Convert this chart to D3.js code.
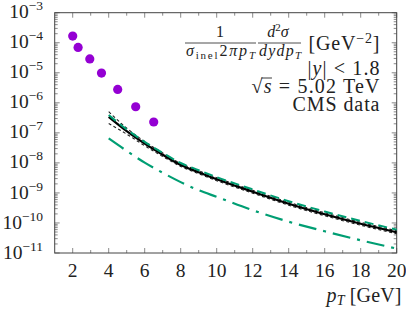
<!doctype html>
<html lang="en">
<head>
<meta charset="utf-8">
<title>D meson pT spectrum</title>
<style>
html, body, svg { margin: 0; padding: 0; border: 0; }
body { background: #fff; }
text { font-family: "Liberation Serif", "DejaVu Serif", serif; fill: #222; }
</style>
</head>
<body>
<svg width="406" height="310"></svg>
<script src="https://d3js.org/d3.v7.min.js"></script>
<script>
// tick labels
var xTicks = [2, 4, 6, 8, 10, 12, 14, 16, 18, 20];
var yExps = [-3, -4, -5, -6, -7, -8, -9, -10, -11];

// CMS data points
var dataPt = [2.0, 2.3, 2.95, 3.6, 4.5, 5.5, 6.5];
var dataVal = [1.67e-4, 7.0e-5, 2.9e-5, 9.8e-6, 2.8e-6, 7.4e-7, 2.3e-7];

// theory curves
var curvePt = [4, 5, 6, 7, 8, 9, 10, 12, 14, 16, 18, 20];
var central = [3.41e-7, 1.14e-7, 4.37e-8, 1.87e-8, 8.57e-9, 4.9e-9, 2.86e-9, 1.10e-9, 4.37e-10, 1.95e-10, 9.4e-11, 4.9e-11];
var upper   = [5.05e-7, 1.44e-7, 5.13e-8, 2.15e-8, 9.6e-9, 5.5e-9, 3.21e-9, 1.23e-9, 4.9e-10, 2.19e-10, 1.05e-10, 5.5e-11];
var lower   = [2.06e-7, 9.06e-8, 3.72e-8, 1.63e-8, 7.64e-9, 4.37e-9, 2.55e-9, 9.8e-10, 3.9e-10, 1.74e-10, 8.4e-11, 4.4e-11];
var greenDash = [3.9e-7, 1.30e-7, 5.0e-8, 2.15e-8, 9.9e-9, 5.7e-9, 3.35e-9, 1.31e-9, 5.3e-10, 2.4e-10, 1.16e-10, 6.0e-11];
var greenDashDot = [6.5e-8, 2.51e-8, 1.02e-8, 4.68e-9, 2.29e-9, 1.23e-9, 7.4e-10, 2.65e-10, 1.10e-10, 5.28e-11, 2.65e-11, 1.40e-11];

var pLeft = 54.7, pRight = 396.7, pTop = 12.7, pBottom = 253;

var svg = d3.select("svg");

var x = d3.scaleLinear().domain([1, 20]).range([pLeft, pRight]);
var y = d3.scaleLog().domain([1e-11, 1e-3]).range([pBottom, pTop]);

// minor / major ticks
var xMajor = xTicks;
var xMinor = d3.range(3, 20, 2);
var yMajor = yExps.map(function(e){ return Math.pow(10, e); });
var yMinor = [];
yExps.slice(1).forEach(function(e){
  for (var k = 2; k <= 9; k++) yMinor.push(k * Math.pow(10, e));
});

var ticks = svg.append("g").attr("stroke", "#8a8a8a").attr("stroke-width", 1);

function xt(vals, len) {
  ticks.selectAll(null).data(vals).enter().append("line")
    .attr("x1", function(d){ return x(d); }).attr("x2", function(d){ return x(d); })
    .attr("y1", pBottom).attr("y2", pBottom - len);
  ticks.selectAll(null).data(vals).enter().append("line")
    .attr("x1", function(d){ return x(d); }).attr("x2", function(d){ return x(d); })
    .attr("y1", pTop).attr("y2", pTop + len);
}
function yt(vals, len) {
  ticks.selectAll(null).data(vals).enter().append("line")
    .attr("y1", function(d){ return y(d); }).attr("y2", function(d){ return y(d); })
    .attr("x1", pLeft).attr("x2", pLeft + len);
  ticks.selectAll(null).data(vals).enter().append("line")
    .attr("y1", function(d){ return y(d); }).attr("y2", function(d){ return y(d); })
    .attr("x1", pRight).attr("x2", pRight - len);
}
xt(xMajor, 5); xt(xMinor, 3);
yt(yMajor, 5); yt(yMinor, 3);

// frame
svg.append("rect")
  .attr("x", pLeft).attr("y", pTop)
  .attr("width", pRight - pLeft).attr("height", pBottom - pTop)
  .attr("fill", "none").attr("stroke", "#444").attr("stroke-width", 1);

// x tick labels
svg.append("g").selectAll("text").data(xTicks).enter().append("text")
  .attr("x", function(d){ return x(d); })
  .attr("y", 277)
  .attr("text-anchor", "middle")
  .style("font-size", "19.5px")
  .text(function(d){ return d; });

// y tick labels
var yl = svg.append("g").selectAll("text").data(yExps).enter().append("text")
  .attr("x", 43)
  .attr("y", function(d){ return y(Math.pow(10, d)) + 5.6; })
  .attr("text-anchor", "end")
  .style("font-size", "19.5px");
yl.append("tspan").text("10");
yl.append("tspan").attr("dy", -8).style("font-size", "13.5px")
  .text(function(d){ return "\u2212" + Math.abs(d); });

// curves
var line = d3.line()
  .x(function(d){ return x(d[0]); })
  .y(function(d){ return y(d[1]); })
  .curve(d3.curveMonotoneX);

function curve(vals, color, width, dash) {
  svg.append("path")
    .datum(d3.zip(curvePt, vals))
    .attr("d", line)
    .attr("fill", "none")
    .attr("stroke", color)
    .attr("stroke-width", width)
    .attr("stroke-dasharray", dash);
}
curve(greenDashDot, "#009e73", 2.2, "18,7,3,7");
curve(upper, "#222", 1.1, "3,2.5");
curve(lower, "#222", 1.1, "3,2.5");
curve(central, "#000", 2.2, null);
curve(greenDash, "#009e73", 2, "9,5");

// data points
svg.append("g").selectAll("circle").data(d3.zip(dataPt, dataVal)).enter().append("circle")
  .attr("cx", function(d){ return x(d[0]); })
  .attr("cy", function(d){ return y(d[1]); })
  .attr("r", 4.6)
  .attr("fill", "#9400d3");

// legend: 1/(sigma_inel 2 pi pT) d2sigma/(dy dpT) [GeV^-2]
var lg = svg.append("g").style("font-size", "16px");
lg.append("text").attr("x", 220).attr("y", 37).attr("text-anchor", "middle").text("1");
lg.append("line").attr("x1", 185).attr("x2", 256).attr("y1", 43).attr("y2", 43)
  .attr("stroke", "#222").attr("stroke-width", 0.8);
var den1 = lg.append("text").attr("x", 186).attr("y", 56)
  .attr("textLength", 69).attr("lengthAdjust", "spacing");
den1.append("tspan").style("font-style", "italic").text("σ");
den1.append("tspan").attr("dy", 3).style("font-size", "11px").text("inel");
den1.append("tspan").attr("dy", -3).text("2");
den1.append("tspan").style("font-style", "italic").text("πp");
den1.append("tspan").attr("dy", 3).style("font-size", "11px").style("font-style", "italic").text("T");

var num2 = lg.append("text").attr("x", 278).attr("y", 37).attr("text-anchor", "middle").style("font-style", "italic");
num2.append("tspan").text("d");
num2.append("tspan").attr("dy", -6).style("font-size", "11px").style("font-style", "normal").text("2");
num2.append("tspan").attr("dy", 6).text("σ");
lg.append("line").attr("x1", 258).attr("x2", 301).attr("y1", 43).attr("y2", 43)
  .attr("stroke", "#222").attr("stroke-width", 0.8);
var den2 = lg.append("text").attr("x", 259).attr("y", 56).style("font-style", "italic")
  .attr("textLength", 42).attr("lengthAdjust", "spacing");
den2.append("tspan").text("dydp");
den2.append("tspan").attr("dy", 3).style("font-size", "11px").text("T");

var lx = 379.5;
var unit = svg.append("text").attr("x", lx).attr("y", 49.5).attr("text-anchor", "end")
  .style("font-size", "20px").attr("textLength", 71).attr("lengthAdjust", "spacing");
unit.append("tspan").text("[GeV");
unit.append("tspan").attr("dy", -7).style("font-size", "14px").text("\u22122");
unit.append("tspan").attr("dy", 7).text("]");

var t1 = svg.append("text").attr("x", lx).attr("y", 75).attr("text-anchor", "end")
  .style("font-size", "20px").attr("textLength", 72).attr("lengthAdjust", "spacing");
t1.append("tspan").text("|");
t1.append("tspan").style("font-style", "italic").text("y");
t1.append("tspan").text("| < 1.8");

var t2 = svg.append("text").attr("x", lx).attr("y", 93).attr("text-anchor", "end")
  .style("font-size", "20px").attr("textLength", 128).attr("lengthAdjust", "spacing");
t2.append("tspan").text("\u221a");
t2.append("tspan").style("font-style", "italic").text("s");
t2.append("tspan").text(" = 5.02 TeV");
// overbar of the root
var n2 = t2.node();
var sx0 = n2.getEndPositionOfChar(0).x - 1, sx1 = n2.getEndPositionOfChar(1).x;
svg.append("line").attr("x1", sx0).attr("x2", sx1 + 0.5).attr("y1", 78).attr("y2", 78)
  .attr("stroke", "#222").attr("stroke-width", 0.9);

svg.append("text").attr("x", lx).attr("y", 110.5).attr("text-anchor", "end")
  .style("font-size", "20px").attr("textLength", 87).attr("lengthAdjust", "spacing")
  .text("CMS data");

// x axis title
var xl = svg.append("text").attr("x", 401.5).attr("y", 302).attr("text-anchor", "end")
  .style("font-size", "20px").attr("textLength", 75).attr("lengthAdjust", "spacing");
xl.append("tspan").style("font-style", "italic").text("p");
xl.append("tspan").attr("dy", 3).style("font-size", "14px").style("font-style", "italic").text("T");
xl.append("tspan").attr("dy", -3).text(" [GeV]");
</script>
</body>
</html>
